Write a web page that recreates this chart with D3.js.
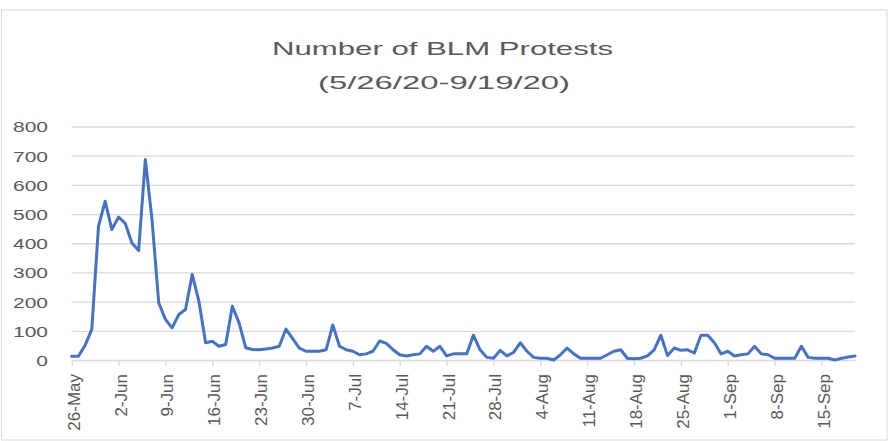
<!DOCTYPE html>
<html>
<head>
<meta charset="utf-8">
<script src="https://cdn.jsdelivr.net/npm/d3@7"></script>
<style>
  body { margin: 0; background: #fff; }
  text { font-family: "Liberation Sans", Arial, sans-serif; fill: #595959; }
</style>
</head>
<body>
<div id="chart"></div>
<script>
// daily protest counts, starting 26-May-2020
var startDate = "26-May-2020";
var protests = [
  13, 13, 50, 105, 458, 544, 447, 490, 468, 401,
  375, 687, 480, 196, 139, 110, 156, 173, 293, 201,
  59, 64, 47, 53, 184, 127, 42, 36, 35, 38,
  41, 47, 106, 73, 41, 30, 30, 30, 35, 120,
  47, 35, 30, 18, 21, 30, 65, 57, 35, 18,
  14, 18, 21, 47, 30, 47, 14, 21, 21, 21,
  85, 35, 9, 6, 33, 14, 26, 59, 30, 9,
  6, 6, 0, 18, 41, 21, 6, 6, 6, 6,
  18, 30, 35, 6, 4, 6, 14, 35, 85, 15,
  41, 33, 35, 24, 85, 85, 59, 21, 30, 14,
  18, 21, 47, 21, 18, 6, 6, 6, 6, 47,
  9, 6, 6, 6, 0, 6, 10, 14
];
var tickLabels = ["26-May", "2-Jun", "9-Jun", "16-Jun", "23-Jun", "30-Jun", "7-Jul",
  "14-Jul", "21-Jul", "28-Jul", "4-Aug", "11-Aug", "18-Aug", "25-Aug", "1-Sep", "8-Sep", "15-Sep"];
var yTicks = [0, 100, 200, 300, 400, 500, 600, 700, 800];
var titleLines = ["Number of BLM Protests", "(5/26/20-9/19/20)"];

var width = 890, height = 441;
var plot = {left: 71.7, right: 855, top: 126.5, bottom: 360};

var parse = d3.utcParse("%d-%b-%Y");
var start = parse(startDate);
var data = protests.map(function(v, i) {
  return {date: d3.utcDay.offset(start, i), value: v};
});

var svg = d3.select("#chart").append("svg")
  .attr("width", width)
  .attr("height", height);

// chart border
svg.append("rect")
  .attr("x", 1.5).attr("y", 10)
  .attr("width", 885.5).attr("height", 430)
  .attr("fill", "none")
  .attr("stroke", "#d9d9d9");

var x = d3.scaleUtc()
  .domain(d3.extent(data, function(d) { return d.date; }))
  .range([plot.left, plot.right]);

var y = d3.scaleLinear()
  .domain([0, 800])
  .range([plot.bottom, plot.top]);

// GRID
svg.append("g")
  .attr("transform", "translate(" + plot.left + ",0)")
  .call(d3.axisLeft(y).tickValues(yTicks.slice(1)).tickSize(-(plot.right - plot.left)).tickFormat(""))
  .call(function(g) { g.select(".domain").remove(); })
  .selectAll("line")
    .attr("stroke", "#d9d9d9")
    .attr("stroke-width", 1.3);

// Y LABELS
svg.append("g").selectAll("text")
  .data(yTicks)
  .enter()
  .append("text")
    .attr("transform", function(d) { return "translate(48," + (y(d) + 1) + ") scale(1.5,1)"; })
    .attr("text-anchor", "end")
    .attr("dy", "0.35em")
    .attr("font-size", "14px")
    .text(function(d) { return d; });

// X AXIS
var tickDates = tickLabels.map(function(t) { return parse(t + "-2020"); });

var xAxis = svg.append("g")
  .attr("transform", "translate(0," + plot.bottom + ")")
  .call(d3.axisBottom(x).tickValues(tickDates).tickSize(6).tickSizeOuter(0).tickFormat(""));
xAxis.select(".domain").attr("stroke", "#d9d9d9").attr("stroke-width", 1.3);
xAxis.selectAll("line").attr("stroke", "#d9d9d9").attr("stroke-width", 1.3);

svg.append("g").selectAll("text")
  .data(tickDates)
  .enter()
  .append("text")
    .attr("transform", function(d) { return "translate(" + x(d) + ",374) rotate(-90)"; })
    .attr("text-anchor", "end")
    .attr("dy", "0.47em")
    .attr("font-size", "17px")
    .text(function(d, i) { return tickLabels[i]; });

// LINE
svg.append("path")
  .datum(data)
  .attr("fill", "none")
  .attr("stroke", "#4472c4")
  .attr("stroke-width", 3)
  .attr("stroke-linejoin", "round")
  .attr("stroke-linecap", "round")
  .attr("d", d3.line()
    .x(function(d) { return x(d.date); })
    .y(function(d) { return y(d.value); }));

// TITLE
svg.append("text")
  .attr("x", 442.5).attr("y", 55)
  .attr("text-anchor", "middle")
  .attr("font-size", "19px")
  .attr("textLength", 341)
  .attr("lengthAdjust", "spacingAndGlyphs")
  .text(titleLines[0]);

svg.append("text")
  .attr("x", 444).attr("y", 88.5)
  .attr("text-anchor", "middle")
  .attr("font-size", "19px")
  .attr("textLength", 252)
  .attr("lengthAdjust", "spacingAndGlyphs")
  .text(titleLines[1]);
</script>
</body>
</html>
